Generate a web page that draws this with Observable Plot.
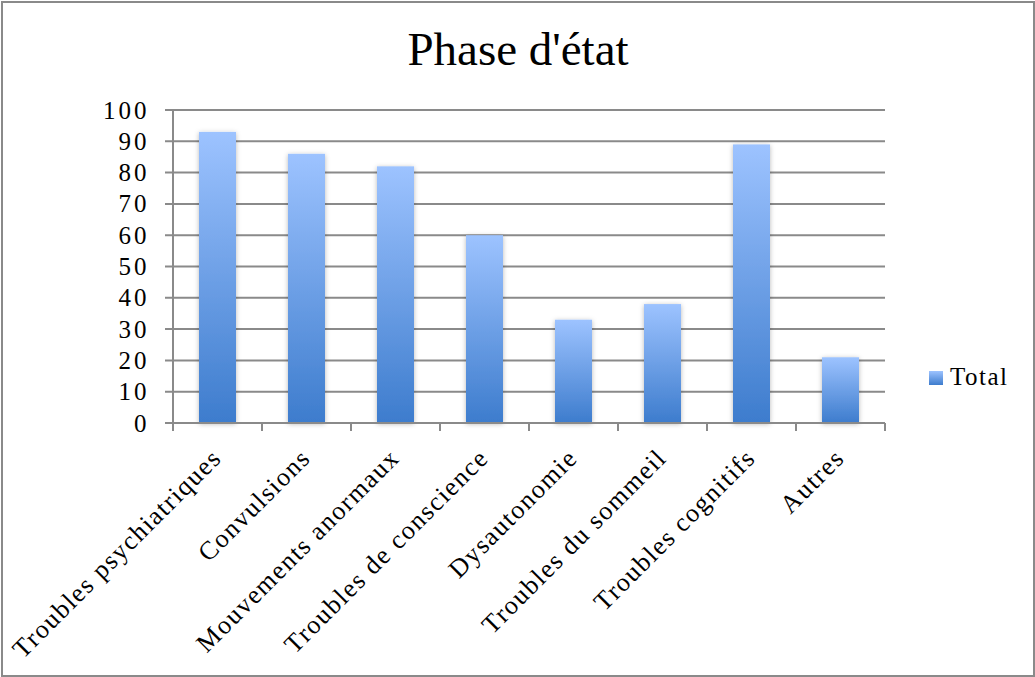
<!DOCTYPE html>
<html>
<head>
<meta charset="utf-8">
<script src="https://cdn.jsdelivr.net/npm/d3@7"></script>
<script src="https://cdn.jsdelivr.net/npm/@observablehq/plot@0.6"></script>
<style>
  html, body { margin: 0; padding: 0; background: #fff; }
  #wrap { position: relative; width: 1035px; height: 677px; overflow: hidden; font-family: "Liberation Serif", "Times New Roman", serif; }
  #frame { position: absolute; left: 1px; top: 1px; width: 1030px; height: 672px; border: 2px solid #8a8a8a; pointer-events: none; }
  #title { position: absolute; left: 0; top: 26px; width: 1036px; text-align: center; font-size: 47px; line-height: 47px; color: #000; }
  #legsq { position: absolute; left: 929px; top: 371px; width: 14px; height: 14px; background: linear-gradient(#9dc3ff, #3d7ccd); }
  #legtx { position: absolute; left: 950px; top: 364px; font-size: 25px; line-height: 25px; letter-spacing: 1.5px; color: #000; }
  svg { position: absolute; left: 0; top: 0; }
</style>
</head>
<body>
<div id="wrap">
  <div id="chart"></div>
  <div id="title">Phase d'état</div>
  <div id="legsq"></div>
  <div id="legtx">Total</div>
  <div id="frame"></div>
</div>
<script>
const categories = ["Troubles psychiatriques", "Convulsions", "Mouvements anormaux", "Troubles de conscience", "Dysautonomie", "Troubles du sommeil", "Troubles cognitifs", "Autres"];
const values = [93, 86, 82, 60, 33, 38, 89, 21];
const yTicks = [0, 10, 20, 30, 40, 50, 60, 70, 80, 90, 100];
const seriesName = "Total";

const data = categories.map((c, i) => ({category: c, value: values[i], series: seriesName}));
const gridColor = "#8a8a8a";

function defsMark() {
  const svg = d3.create("svg:g");
  const defs = svg.append("defs");
  const g = defs.append("linearGradient").attr("id", "barGrad").attr("x1", 0).attr("y1", 0).attr("x2", 0).attr("y2", 1);
  g.append("stop").attr("offset", "0%").attr("stop-color", "#9dc3ff");
  g.append("stop").attr("offset", "100%").attr("stop-color", "#3d7ccd");
  const f = defs.append("filter").attr("id", "barShadow").attr("x", "-30%").attr("y", "-10%").attr("width", "160%").attr("height", "130%");
  f.append("feDropShadow").attr("dx", 0).attr("dy", 1).attr("stdDeviation", 2.5).attr("flood-color", "#000").attr("flood-opacity", 0.28);
  return svg.node();
}

function edges(x) {
  const step = x(categories[1]) - x(categories[0]);
  const bw = x.bandwidth ? x.bandwidth() : 0;
  const gap = (step - bw) / 2;
  const xs = categories.map(c => x(c) - gap);
  xs.push(x(categories[categories.length - 1]) + bw + gap);
  return xs;
}

function gridMark(index, scales) {
  const xs = edges(scales.x);
  const g = d3.create("svg:g").attr("stroke", gridColor).attr("stroke-width", 2);
  yTicks.forEach(t => {
    const py = scales.y(t);
    g.append("line").attr("x1", xs[0] - 8).attr("x2", xs[xs.length - 1]).attr("y1", py).attr("y2", py);
  });
  return g.node();
}

function axisMark(index, scales) {
  const xs = edges(scales.x);
  const y0 = scales.y(0);
  const g = d3.create("svg:g").attr("stroke", gridColor).attr("stroke-width", 2);
  xs.forEach(px => g.append("line").attr("x1", px).attr("x2", px).attr("y1", y0).attr("y2", y0 + 8));
  g.append("line").attr("x1", xs[0]).attr("x2", xs[0]).attr("y1", scales.y(100) - 1).attr("y2", y0 + 8);
  g.append("line").attr("x1", xs[0] - 8).attr("x2", xs[xs.length - 1]).attr("y1", y0).attr("y2", y0);
  return g.node();
}

const chart = Plot.plot({
  width: 1035,
  height: 677,
  marginLeft: 171,
  marginRight: 149,
  marginTop: 110,
  marginBottom: 254,
  style: { fontFamily: "Liberation Serif, Times New Roman, serif", fontSize: "25px", background: "transparent", color: "#000", overflow: "visible" },
  x: { domain: categories, paddingInner: 0.586, paddingOuter: 0.293, axis: null },
  y: { domain: [0, 100], axis: null },
  marks: [
    defsMark,
    gridMark,
    Plot.text(yTicks, { y: d => d, frameAnchor: "left", dx: -22, textAnchor: "end", text: d => String(d), fontSize: 25, fill: "#000" }),
    Plot.barY(data, { x: "category", y: "value", fill: "url(#barGrad)" }),
    axisMark,
    Plot.text(categories, { x: d => d, frameAnchor: "bottom", rotate: -45, textAnchor: "end", dx: 5, dy: 36, fontSize: 26, fill: "#000" })
  ]
});
const yStr = new Set(yTicks.map(String));
const cSet = new Set(categories);
d3.select(chart).selectAll("text").each(function() {
  const t = this.textContent;
  if (yStr.has(t)) this.setAttribute("letter-spacing", "3");
  else if (cSet.has(t)) this.setAttribute("letter-spacing", "1.5");
});
d3.select(chart).selectAll("rect").each(function() {
  if ((this.getAttribute("fill") || "").includes("barGrad") || (this.parentNode.getAttribute("fill") || "").includes("barGrad")) {
    this.setAttribute("filter", "url(#barShadow)");
  }
});
document.getElementById("chart").appendChild(chart);
</script>
</body>
</html>
